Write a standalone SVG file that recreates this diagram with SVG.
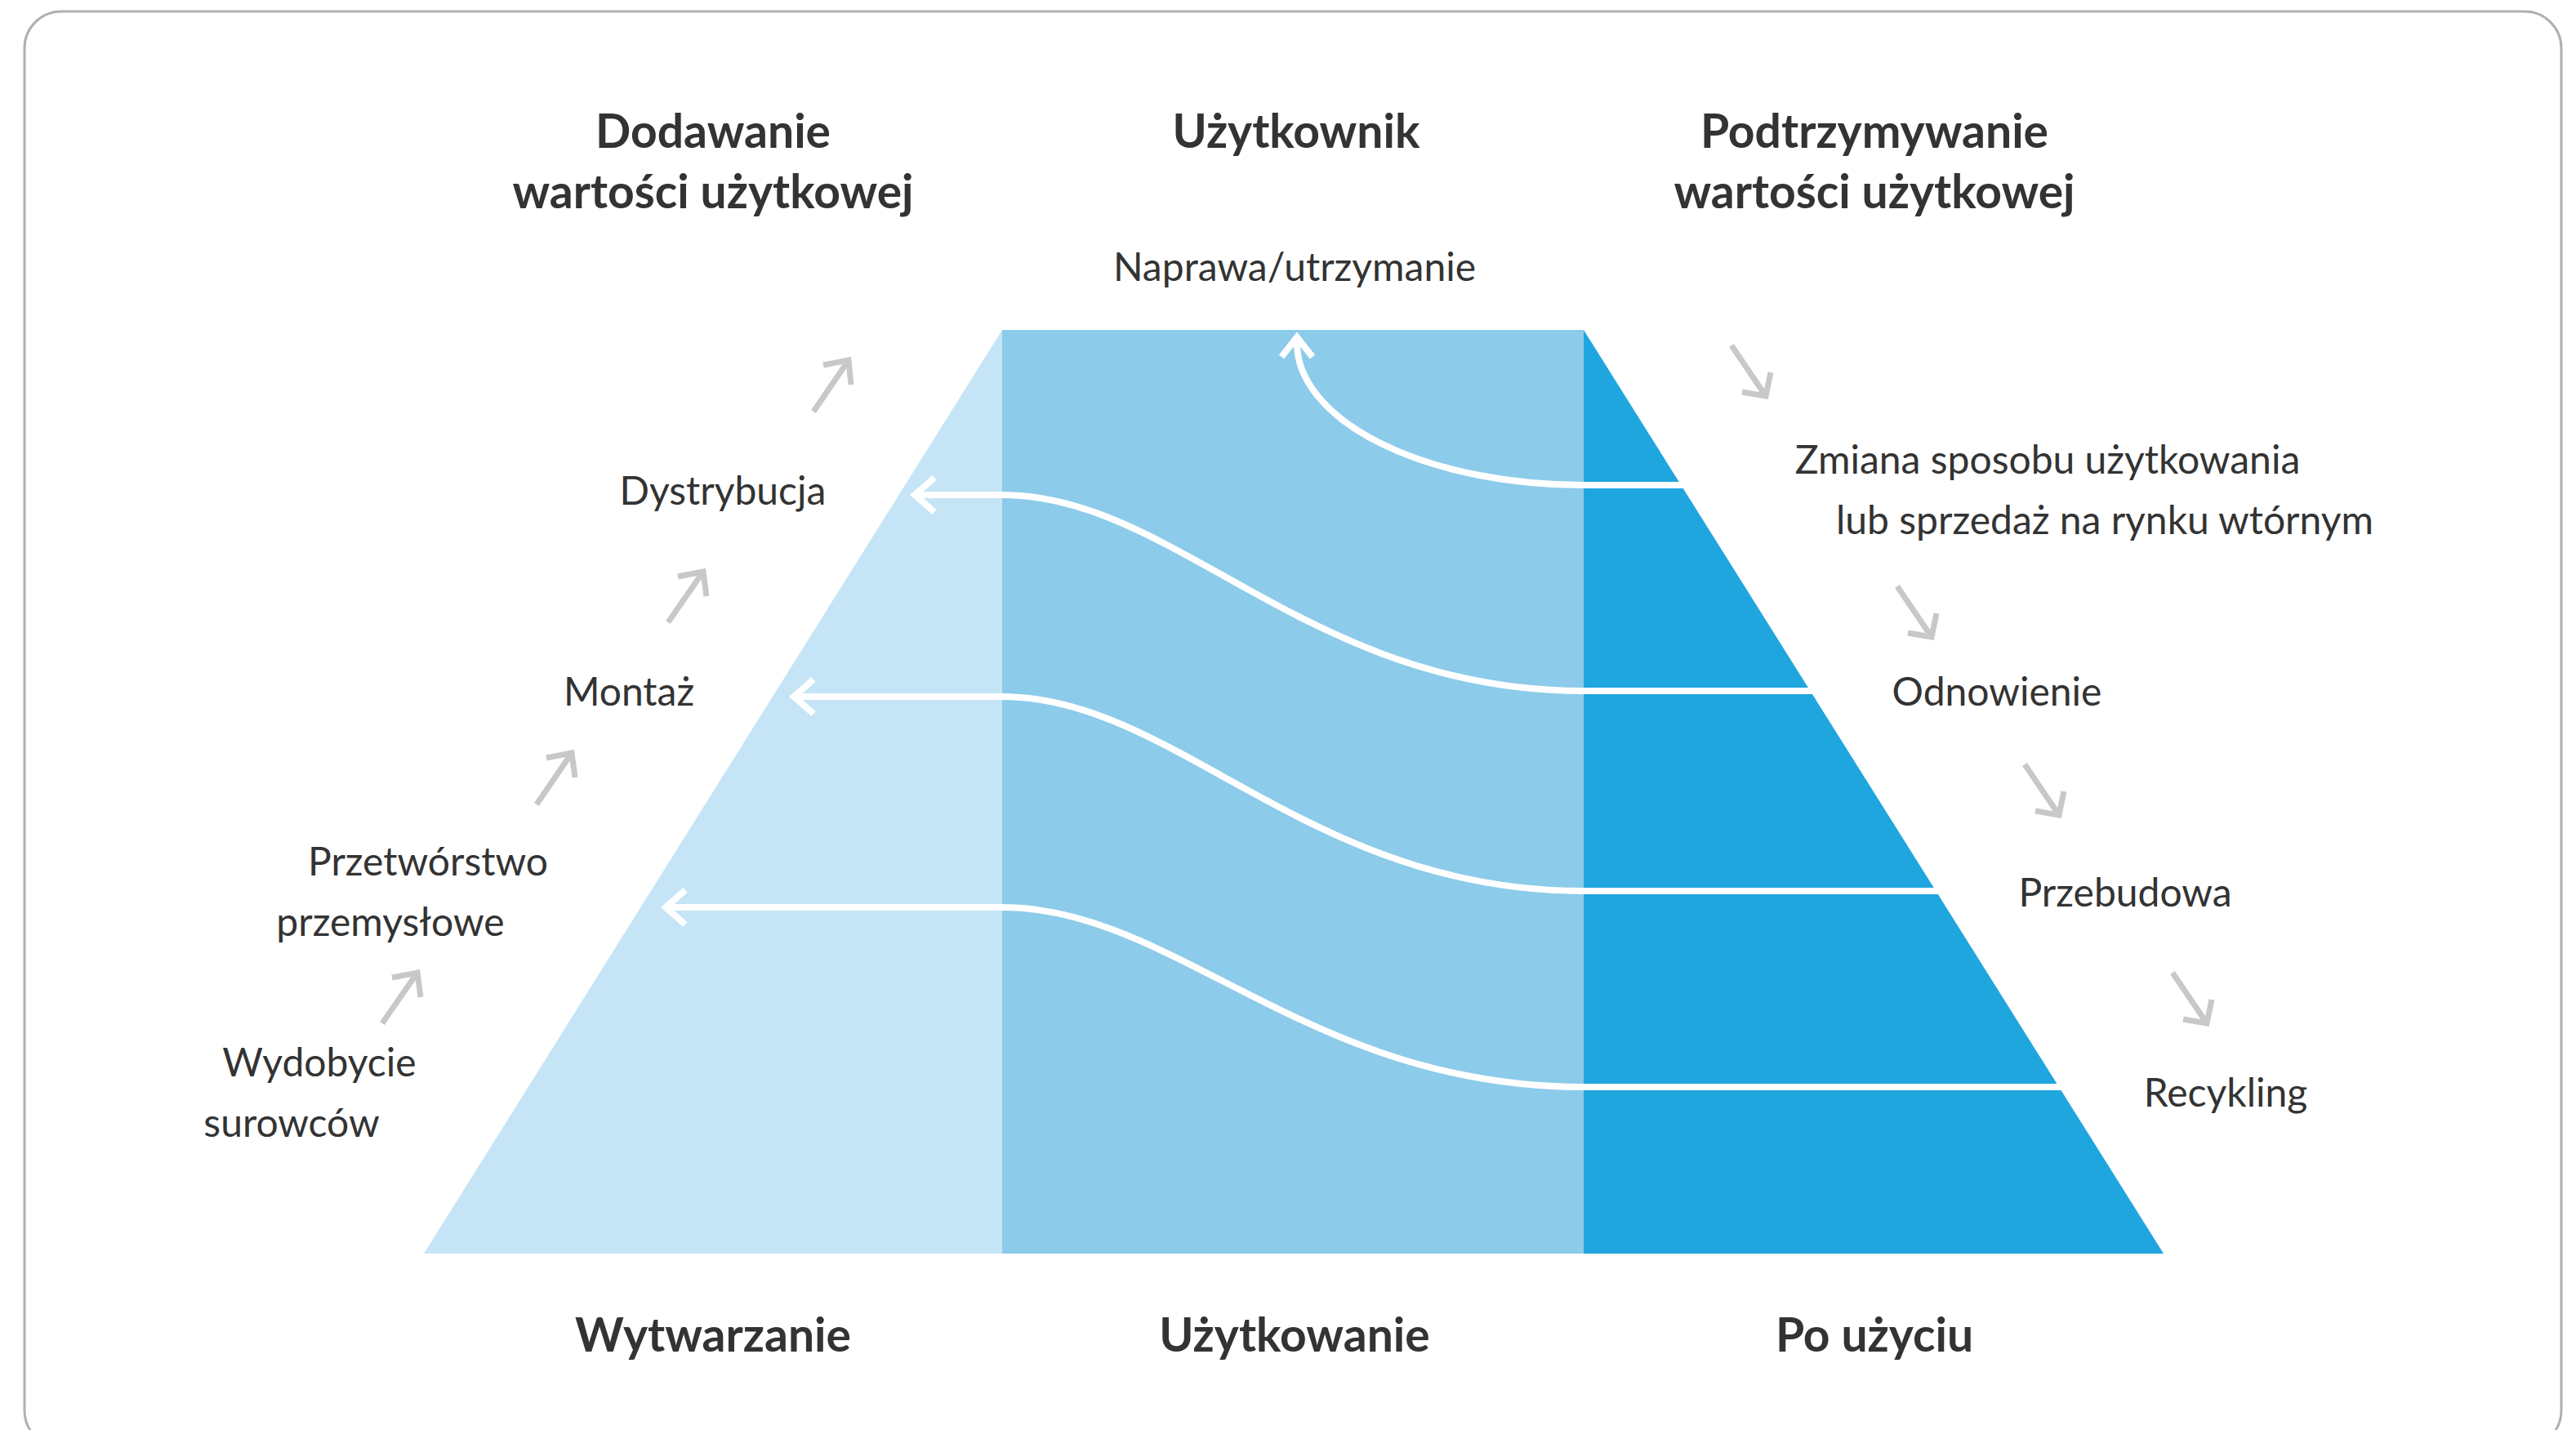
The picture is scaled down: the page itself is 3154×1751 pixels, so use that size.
<svg xmlns="http://www.w3.org/2000/svg" width="3154" height="1751" viewBox="0 0 3154 1751">
<style>
.h{font-family:Lato,"Open Sans","Liberation Sans",sans-serif;font-weight:700;font-size:57px;fill:#333;text-anchor:middle}
.l{font-family:Lato,"Open Sans","Liberation Sans",sans-serif;font-weight:400;font-size:48px;fill:#333;text-anchor:middle}
.w{fill:none;stroke:#fff;stroke-width:8}
.g{fill:none;stroke:#c8c8c8;stroke-width:7}
</style>
<rect x="0" y="0" width="3154" height="1751" fill="#fff"/>
<rect x="30" y="14" width="3106" height="1758" rx="45" ry="45" fill="#fff" stroke="#b0b0b0" stroke-width="3"/>
<g id="pyramid">
<polygon points="519,1535 1227,404 1227,1535" fill="#c5e5f6"/>
<rect x="1227" y="404" width="712" height="1131" fill="#8ccbea"/>
<polygon points="1939,404 2649,1535 1939,1535" fill="#20a6de"/>
</g>
<g id="connectors">
<path class="w" d="M2075,594 H1939 A351 174 0 0 1 1588 420 V414"/>
<path class="w" d="M1569,437 L1588,413 L1607,437"/>
<path class="w" d="M2235,846 H1939 C1600,846 1440,606 1227,606 H1122"/>
<path class="w" d="M1144,585 L1120,606 L1144,627"/>
<path class="w" d="M2390,1091 H1939 C1600,1091 1440,853 1227,853 H975"/>
<path class="w" d="M996,832 L972,853 L996,874"/>
<path class="w" d="M2540,1331 H1939 C1600,1331 1440,1111 1227,1111 H818"/>
<path class="w" d="M839,1090 L815,1111 L839,1132"/>
<path class="g" d="M996,504 L1039,441 M1008,447 L1039,441 L1042,471"/>
<path class="g" d="M818,762 L861,700 M830,706 L861,700 L865,730"/>
<path class="g" d="M657,985 L700,922 M669,928 L700,922 L704,952"/>
<path class="g" d="M468,1253 L511,1191 M480,1197 L511,1191 L515,1221"/>
<path class="g" d="M2120,423 L2162,485 M2133,480 L2162,485 L2168,456"/>
<path class="g" d="M2323,718 L2365,780 M2336,775 L2365,780 L2371,751"/>
<path class="g" d="M2479,936 L2521,998 M2492,993 L2521,998 L2527,969"/>
<path class="g" d="M2660,1191 L2702,1253 M2673,1248 L2702,1253 L2708,1224"/>
</g>
<g id="heading-dodawanie"><text class="h" x="873" y="181">Dodawanie</text><text class="h" x="873" y="255">wartości użytkowej</text></g>
<g id="heading-uzytkownik"><text class="h" x="1587" y="181">Użytkownik</text></g>
<g id="heading-podtrzymywanie"><text class="h" x="2295" y="181">Podtrzymywanie</text><text class="h" x="2295" y="255">wartości użytkowej</text></g>
<g id="label-naprawa"><text class="l" x="1585" y="344">Naprawa/utrzymanie</text></g>
<g id="label-dystrybucja"><text class="l" x="885" y="618">Dystrybucja</text></g>
<g id="label-montaz"><text class="l" x="770" y="864">Montaż</text></g>
<g id="label-przetworstwo"><text class="l" x="524" y="1072">Przetwórstwo</text><text class="l" x="478" y="1146">przemysłowe</text></g>
<g id="label-wydobycie"><text class="l" x="391" y="1318">Wydobycie</text><text class="l" x="357" y="1392">surowców</text></g>
<g id="label-zmiana"><text class="l" x="2507" y="580">Zmiana sposobu użytkowania</text><text class="l" x="2577" y="654">lub sprzedaż na rynku wtórnym</text></g>
<g id="label-odnowienie"><text class="l" x="2445" y="864">Odnowienie</text></g>
<g id="label-przebudowa"><text class="l" x="2602" y="1110">Przebudowa</text></g>
<g id="label-recykling"><text class="l" x="2725" y="1355">Recykling</text></g>
<g id="heading-wytwarzanie"><text class="h" x="873" y="1655">Wytwarzanie</text></g>
<g id="heading-uzytkowanie"><text class="h" x="1585" y="1655">Użytkowanie</text></g>
<g id="heading-po-uzyciu"><text class="h" x="2295" y="1655">Po użyciu</text></g>
</svg>
